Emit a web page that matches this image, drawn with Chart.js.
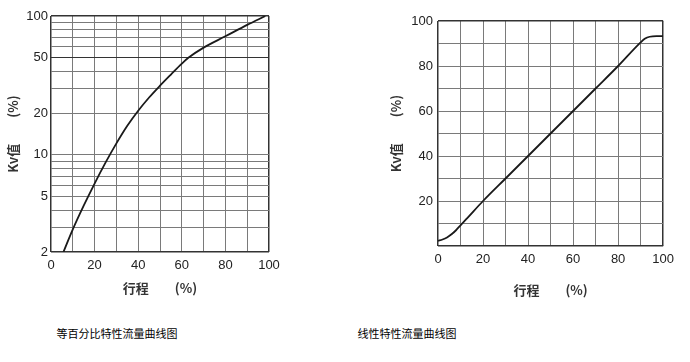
<!DOCTYPE html>
<html><head><meta charset="utf-8">
<script src="https://cdn.jsdelivr.net/npm/chart.js@4/dist/chart.umd.min.js"></script>
<style>
html,body{margin:0;padding:0;background:#fff;}
#wrap{position:relative;width:690px;height:362px;overflow:hidden;background:#fff;}
canvas{position:absolute;}
.cap{position:absolute;font-family:"Noto Sans CJK SC";font-size:11px;color:#000;white-space:nowrap;transform:translateX(-50%);line-height:14px;}
</style></head><body>
<div id="wrap">
<canvas id="c1" width="290" height="300" style="left:0;top:0"></canvas>
<canvas id="c2" width="310" height="300" style="left:370px;top:0"></canvas>
<div class="cap" style="left:117px;top:326px">等百分比特性流量曲线图</div>
<div class="cap" style="left:407px;top:326px">线性特性流量曲线图</div>
</div>
<script>
// ---- data ----
const eqTravel = [5.7, 10, 15, 20, 25, 30, 35, 40, 45, 50, 55, 60, 63, 70, 80, 90, 98.3];
const eqKv     = [2, 2.91, 4.31, 6.22, 8.79, 12.1, 16.2, 20.8, 25.9, 31.5, 37.9, 45.4, 50, 59.2, 71.4, 86.3, 100];
const linTravel = [0, 2, 4, 6, 8, 10, 13, 20, 30, 40, 50, 60, 70, 80, 90, 92, 94, 97, 100];
const linKv     = [2.3, 2.9, 3.8, 5.2, 7.0, 9.2, 12.4, 20, 30, 40, 50, 60, 70, 80, 90.5, 92.2, 93, 93.3, 93.3];
const travelGrid = [0, 10, 20, 30, 40, 50, 60, 70, 80, 90, 100];
const travelLabels = [0, 20, 40, 60, 80, 100];
const eqKvGrid = [2, 3, 4, 5, 6, 7, 8, 9, 10, 20, 30, 40, 50, 60, 70, 80, 90, 100];
const eqKvLabels = [2, 5, 10, 20, 50, 100];
const linKvGrid = [0, 10, 20, 30, 40, 50, 60, 70, 80, 90, 100];
const linKvLabels = [20, 40, 60, 80, 100];
const xTitle = '行程　　(%)';
const yTitle = 'Kv值　　(%)';

const tickFont = {family: "'Liberation Sans', Arial, sans-serif", size: 13};
const titleFont = {family: "'Noto Sans CJK SC', sans-serif", size: 13, weight: 'bold'};
const txtColor = '#222';
const gridCol = '#7a7a7a';
const edgeCol = '#333';

function pts(xs, ys) { return xs.map((x, i) => ({x: x, y: ys[i]})); }

function makeChart(id, cfg) {
  return new Chart(document.getElementById(id), {
    type: 'line',
    data: {datasets: [{
      data: pts(cfg.xs, cfg.ys),
      borderColor: '#1a1a1a', borderWidth: 1.8, pointRadius: 0,
      cubicInterpolationMode: 'monotone', fill: false
    }]},
    options: {
      responsive: false, animation: false, devicePixelRatio: 1,
      layout: {padding: cfg.padding},
      plugins: {legend: {display: false}, tooltip: {enabled: false}},
      scales: {
        x: {
          type: 'linear', min: 0, max: 100,
          afterBuildTicks: s => { s.ticks = travelGrid.map(v => ({value: v})); },
          afterFit: s => { s.height = cfg.xHeight; },
          ticks: {autoSkip: false, maxRotation: 0, padding: 6, font: tickFont, color: txtColor,
            callback: v => travelLabels.includes(v) ? String(v) : ''},
          grid: {drawTicks: false, lineWidth: c => (c.tick && (c.tick.value === 0 || c.tick.value === 100)) ? 1.5 : 1,
            color: c => (c.tick && (c.tick.value === 0 || c.tick.value === 100)) ? edgeCol : gridCol},
          border: {display: false},
          title: {display: true, text: xTitle, font: titleFont, color: '#333', padding: {top: 0, bottom: cfg.xTitlePad}}
        },
        y: {
          type: cfg.yType, min: cfg.yMin, max: 100,
          afterBuildTicks: s => { s.ticks = cfg.yGrid.map(v => ({value: v})); },
          afterFit: s => { s.width = cfg.yWidth; },
          ticks: {autoSkip: false, padding: cfg.yTickPad, font: tickFont, color: txtColor,
            callback: v => cfg.yLabels.includes(v) ? String(v) : ''},
          grid: {drawTicks: false,
            lineWidth: c => (c.tick && (c.tick.value === cfg.yMin || c.tick.value === 100)) ? 1.5 : 1,
            color: c => (c.tick && (c.tick.value === cfg.yMin || c.tick.value === 100 || c.tick.value === cfg.yDark)) ? edgeCol : gridCol},
          border: {display: false},
          title: {display: true, text: yTitle, font: titleFont, color: '#333', padding: {top: cfg.yTitlePad, bottom: 0}}
        }
      }
    }
  });
}

makeChart('c1', {
  xs: eqTravel, ys: eqKv, yType: 'logarithmic', yMin: 2, yGrid: eqKvGrid, yLabels: eqKvLabels, yDark: 50,
  padding: {top: 16, right: 21, left: 0, bottom: 0}, xHeight: 48, yWidth: 51, yTickPad: 3, xTitlePad: 4, yTitlePad: 5
});
makeChart('c2', {
  xs: linTravel, ys: linKv, yType: 'linear', yMin: 0, yGrid: linKvGrid, yLabels: linKvLabels, yDark: null,
  padding: {top: 21, right: 13, left: 0, bottom: 0}, xHeight: 54, yWidth: 68, yTickPad: 5, xTitlePad: 2, yTitlePad: 18
});
</script>
</body></html>
